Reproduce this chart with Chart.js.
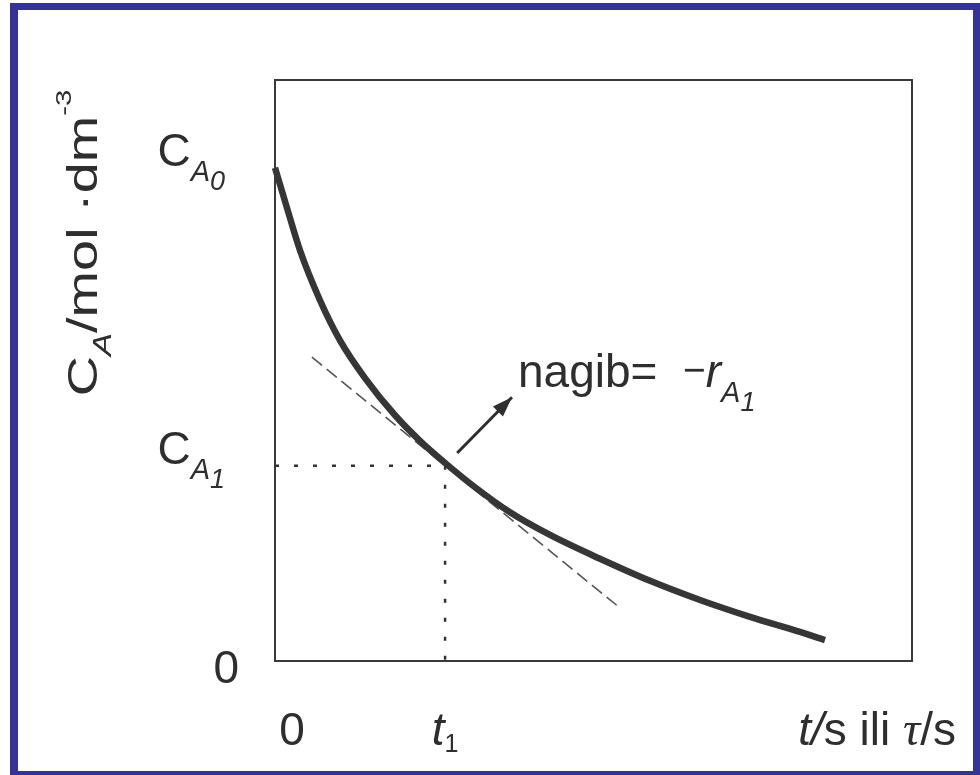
<!DOCTYPE html>
<html><head><meta charset="utf-8">
<script src="https://cdn.jsdelivr.net/npm/chart.js@4"></script>
<style>html,body{margin:0;padding:0;background:#fff;}#wrap{position:relative;width:980px;height:775px;}</style>
</head><body><div id="wrap"><canvas id="c" width="980" height="775"></canvas></div>
<script>
// ---- data ----
const curveX = [0, 0.188, 0.392, 0.706, 1.020, 1.413, 1.884, 2.276, 2.669, 3.140, 3.689, 4.317, 5.102, 5.887, 6.672, 7.457, 8.242, 8.634];
const curveY = [0.849, 0.780, 0.707, 0.621, 0.552, 0.487, 0.423, 0.379, 0.341, 0.299, 0.256, 0.217, 0.176, 0.138, 0.105, 0.076, 0.050, 0.036];
const tangentX = [0.58, 5.42];
const tangentY = [0.523, 0.091];
const t1Value = 2.67;
const cA1Value = 0.336;
const cA0Value = 0.849;
const arrowX = [2.86, 3.72];
const arrowY = [0.358, 0.454];
const xTickValues = [0, t1Value];
const xTickLabels = [ [['0','n']], [['t','i'],['1','subn']] ];
const yTickValues = [0, cA1Value, cA0Value];
const yTickLabels = [ [['0','n']], [['C','n'],['A','sub'],['1','subsub']], [['C','n'],['A','sub'],['0','subsub']] ];
const yTitle = [['C','n'],['A','sub'],['/mol ·dm','n'],['-3','sup']];
const xTitle = [['t/','i'],['s ili ','n'],['τ','serifi'],['/s','n']];
const slopeLabel = [['nagib=','n'],['  ','n'],['−','minus'],['r','i'],['A','sub'],['1','subsub']];

const FONT = '"Liberation Sans", Arial, sans-serif';
const TXT = '#2e2e2e';

function segFont(kind, base) {
  switch (kind) {
    case 'i': return {font: 'italic ' + base + 'px ' + FONT, dy: 0};
    case 'sub': return {font: 'italic ' + Math.round(base*0.63) + 'px ' + FONT, dy: Math.round(base*0.33)};
    case 'subn': return {font: Math.round(base*0.55) + 'px ' + FONT, dy: Math.round(base*0.16)};
    case 'subsub': return {font: 'italic ' + Math.round(base*0.58) + 'px ' + FONT, dy: Math.round(base*0.53)};
    case 'sup': return {font: Math.round(base*0.52) + 'px ' + FONT, dy: -Math.round(base*0.62)};
    case 'serifi': return {font: 'italic ' + Math.round(base*1.05) + 'px "Liberation Serif", serif', dy: 0};
    case 'minus': return {font: Math.round(base*0.85) + 'px ' + FONT, dy: -Math.round(base*0.08)};
    default: return {font: base + 'px ' + FONT, dy: 0};
  }
}
function richWidth(ctx, segs, base) {
  let w = 0;
  for (const [t, k] of segs) { ctx.font = segFont(k, base).font; w += ctx.measureText(t).width; }
  return w;
}
function drawRich(ctx, x, y, segs, base, align) {
  const w = richWidth(ctx, segs, base);
  let cx = align === 'right' ? x - w : align === 'center' ? x - w/2 : x;
  ctx.textAlign = 'left'; ctx.textBaseline = 'alphabetic';
  for (const [t, k] of segs) {
    const f = segFont(k, base);
    ctx.font = f.font;
    ctx.fillText(t, cx, y + f.dy);
    cx += ctx.measureText(t).width;
  }
}

const pts = (xs, ys) => xs.map((x, i) => ({x, y: ys[i]}));

const decor = {
  id: 'decor',
  beforeDatasetsDraw(chart) {
    const {ctx, chartArea: a} = chart;
    ctx.save();
    ctx.strokeStyle = '#3a3a3a';
    ctx.lineWidth = 2;
    ctx.strokeRect(a.left, a.top, a.right - a.left, a.bottom - a.top);
    ctx.restore();
  },
  afterDraw(chart) {
    const {ctx, scales: {x, y}} = chart;
    ctx.save();
    ctx.fillStyle = TXT;
    // arrow head
    const x0 = x.getPixelForValue(arrowX[0]), y0 = y.getPixelForValue(arrowY[0]);
    const x1 = x.getPixelForValue(arrowX[1]), y1 = y.getPixelForValue(arrowY[1]);
    const ang = Math.atan2(y1 - y0, x1 - x0);
    ctx.translate(x1, y1); ctx.rotate(ang);
    ctx.beginPath(); ctx.moveTo(0, 0); ctx.lineTo(-20, -7); ctx.lineTo(-20, 7); ctx.closePath(); ctx.fill();
    ctx.setTransform(1, 0, 0, 1, 0, 0);
    // y tick labels
    yTickValues.forEach((v, i) => {
      const py = y.getPixelForValue(v);
      if (yTickLabels[i].length === 1) drawRich(ctx, 239, py + 22, yTickLabels[i], 46, 'right');
      else drawRich(ctx, 225, py - 2, yTickLabels[i], 46, 'right');
    });
    // x tick labels
    xTickValues.forEach((v, i) => {
      const px = x.getPixelForValue(v);
      const off = i === 0 ? 17 : 0;
      drawRich(ctx, px + off, 745, xTickLabels[i], 46, 'center');
    });
    // x title
    drawRich(ctx, 956, 745, xTitle, 46, 'right');
    // slope label
    drawRich(ctx, 518, 387, slopeLabel, 46, 'left');
    // y title (rotated)
    ctx.translate(97, 243);
    ctx.rotate(-Math.PI / 2);
    ctx.scale(1.33, 1);
    drawRich(ctx, 0, 0, yTitle, 42, 'center');
    ctx.setTransform(1, 0, 0, 1, 0, 0);
    // blue frame
    ctx.fillStyle = '#333399';
    ctx.fillRect(10, 3, 970, 7);
    ctx.fillRect(10, 3, 8, 772);
    ctx.fillRect(973, 3, 7, 772);
    ctx.fillRect(10, 771, 970, 4);
    ctx.restore();
  }
};

new Chart(document.getElementById('c'), {
  type: 'line',
  data: {
    datasets: [
      {data: pts(curveX, curveY), borderColor: '#363636', borderWidth: 6.5, cubicInterpolationMode: 'monotone', pointRadius: 0, clip: false, borderCapStyle: 'butt'},
      {data: pts(tangentX, tangentY), borderColor: '#555', borderWidth: 1.6, borderDash: [13, 6], pointRadius: 0, clip: false},
      {data: pts([0, t1Value], [cA1Value, cA1Value]), borderColor: '#333', borderWidth: 2.5, borderDash: [4, 15], pointRadius: 0, clip: false},
      {data: pts([t1Value, t1Value], [cA1Value, 0]), borderColor: '#333', borderWidth: 2.5, borderDash: [4, 15], pointRadius: 0, clip: false},
      {data: pts(arrowX, arrowY), borderColor: TXT, borderWidth: 3, pointRadius: 0, clip: false}
    ]
  },
  options: {
    responsive: false,
    animation: false,
    events: [],
    layout: {padding: {left: 275, right: 68, top: 80, bottom: 114}},
    plugins: {legend: {display: false}, tooltip: {enabled: false}},
    scales: {
      x: {type: 'linear', min: 0, max: 10, display: false},
      y: {type: 'linear', min: 0, max: 1, display: false}
    }
  },
  plugins: [decor]
});
</script></body></html>
